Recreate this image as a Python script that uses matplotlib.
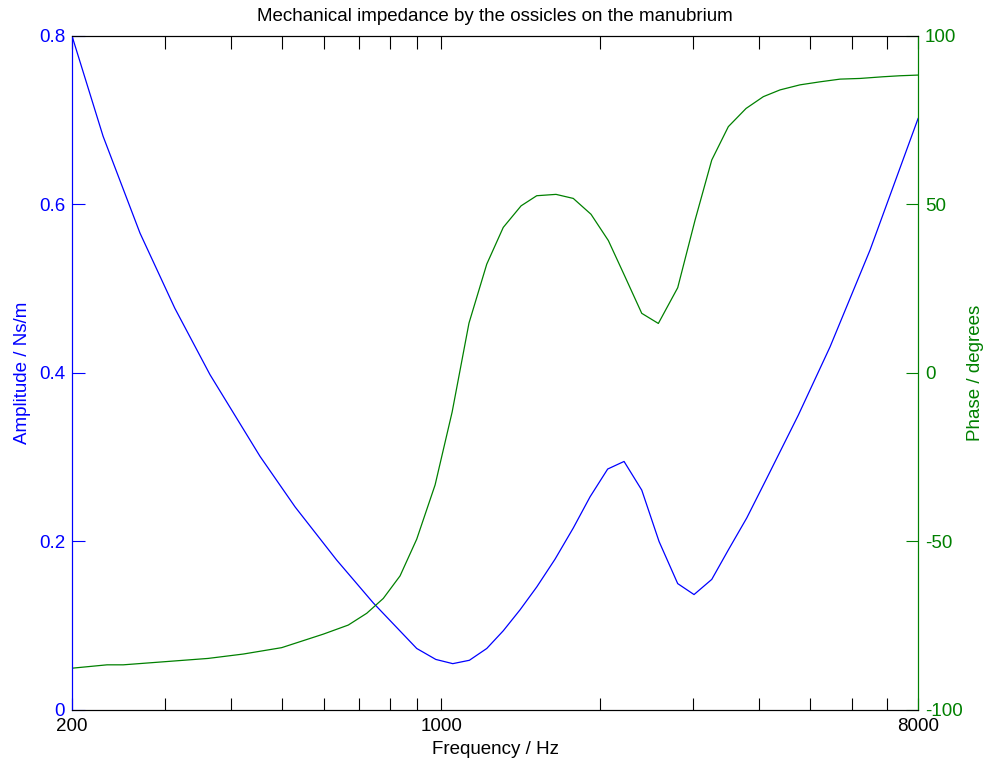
import matplotlib
matplotlib.use("Agg")
import matplotlib.pyplot as plt
from matplotlib.ticker import FixedLocator, NullFormatter

plt.rcParams['font.family'] = ['Liberation Sans', 'DejaVu Sans']
plt.rcParams['axes.unicode_minus'] = False

# amplitude curve
freq_amp = [200, 229, 269, 313, 365, 454, 529, 634, 744, 899, 977, 1052, 1131,
            1220, 1311, 1411, 1517, 1643, 1779, 1914, 2067, 2220, 2398, 2586,
            2805, 3012, 3254, 3498, 3791, 4136, 4746, 5450, 6489, 8000]
amplitude = [0.800, 0.681, 0.566, 0.477, 0.398, 0.301, 0.241, 0.178, 0.127,
             0.073, 0.060, 0.055, 0.059, 0.073, 0.094, 0.119, 0.146, 0.179,
             0.216, 0.253, 0.286, 0.295, 0.261, 0.200, 0.150, 0.137, 0.155,
             0.190, 0.228, 0.275, 0.350, 0.431, 0.546, 0.702]

# phase curve
freq_phase = [200, 233, 250, 298, 362, 422, 499, 598, 667, 723, 777, 836, 899,
              974, 1049, 1129, 1220, 1311, 1417, 1517, 1650, 1779, 1922, 2073,
              2229, 2398, 2578, 2805, 3026, 3254, 3498, 3779, 4075, 4382, 4781,
              5218, 5694, 6212, 6866, 7396, 8000]
phase = [-87.6, -86.6, -86.6, -85.7, -84.7, -83.4, -81.5, -77.5, -74.8, -71.3,
         -66.9, -60.2, -49.3, -33.2, -11.6, 14.8, 32.3, 43.2, 49.6, 52.6, 53.0,
         51.8, 47.1, 39.3, 28.6, 17.7, 14.7, 25.3, 45.4, 63.2, 73.1, 78.5, 82.0,
         84.0, 85.5, 86.4, 87.2, 87.4, 87.9, 88.2, 88.4]

x_major = [200, 1000, 8000]
x_minor = [300, 400, 500, 600, 700, 800, 900, 2000, 3000, 4000, 5000, 6000, 7000]
amp_ticks = [0, 0.2, 0.4, 0.6, 0.8]
amp_labels = ['0', '0.2', '0.4', '0.6', '0.8']
phase_ticks = [-100, -50, 0, 50, 100]

blue = '#0000ff'
green = '#008000'
fs = 13.5

fig = plt.figure(figsize=(9.84, 7.64), dpi=100)
ax = fig.add_axes([0.0732, 0.0707, 0.8598, 0.8822])
ax2 = ax.twinx()

ax.plot(freq_amp, amplitude, color=blue, lw=0.9)
ax2.plot(freq_phase, phase, color=green, lw=0.9)

ax.set_xscale('log')
ax.set_xlim(200, 8000)
ax.set_ylim(0, 0.8)
ax2.set_ylim(-100, 100)

ax.xaxis.set_major_locator(FixedLocator(x_major))
ax.xaxis.set_minor_locator(FixedLocator(x_minor))
ax.xaxis.set_minor_formatter(NullFormatter())
ax.set_xticklabels([str(v) for v in x_major])
ax.set_yticks(amp_ticks)
ax.set_yticklabels(amp_labels)
ax2.set_yticks(phase_ticks)

# matlab-like inward ticks
ax.tick_params(axis='x', which='both', direction='in', top=True, bottom=True,
               length=9, width=0.8, labelsize=fs, pad=6, colors='black')
ax.tick_params(axis='y', which='both', direction='in', right=False, length=9,
               width=0.8, labelsize=fs, colors=blue, pad=5)
ax2.tick_params(axis='y', direction='in', length=9, width=0.8, labelsize=fs,
                colors=green, pad=5)

for a in (ax, ax2):
    a.spines['top'].set_color('black')
    a.spines['bottom'].set_color('black')
    a.spines['left'].set_color(blue)
    a.spines['right'].set_color(green)
    for s in a.spines.values():
        s.set_linewidth(0.8)

ax.set_xlabel('Frequency / Hz', fontsize=fs, labelpad=4)
ax.set_ylabel('Amplitude / Ns/m', fontsize=fs, color=blue, labelpad=6)
ax2.set_ylabel('Phase / degrees', fontsize=fs, color=green, labelpad=3)
ax.set_title('Mechanical impedance by the ossicles on the manubrium',
             fontsize=fs, pad=10.5)

fig.savefig('out.png', dpi=100)
